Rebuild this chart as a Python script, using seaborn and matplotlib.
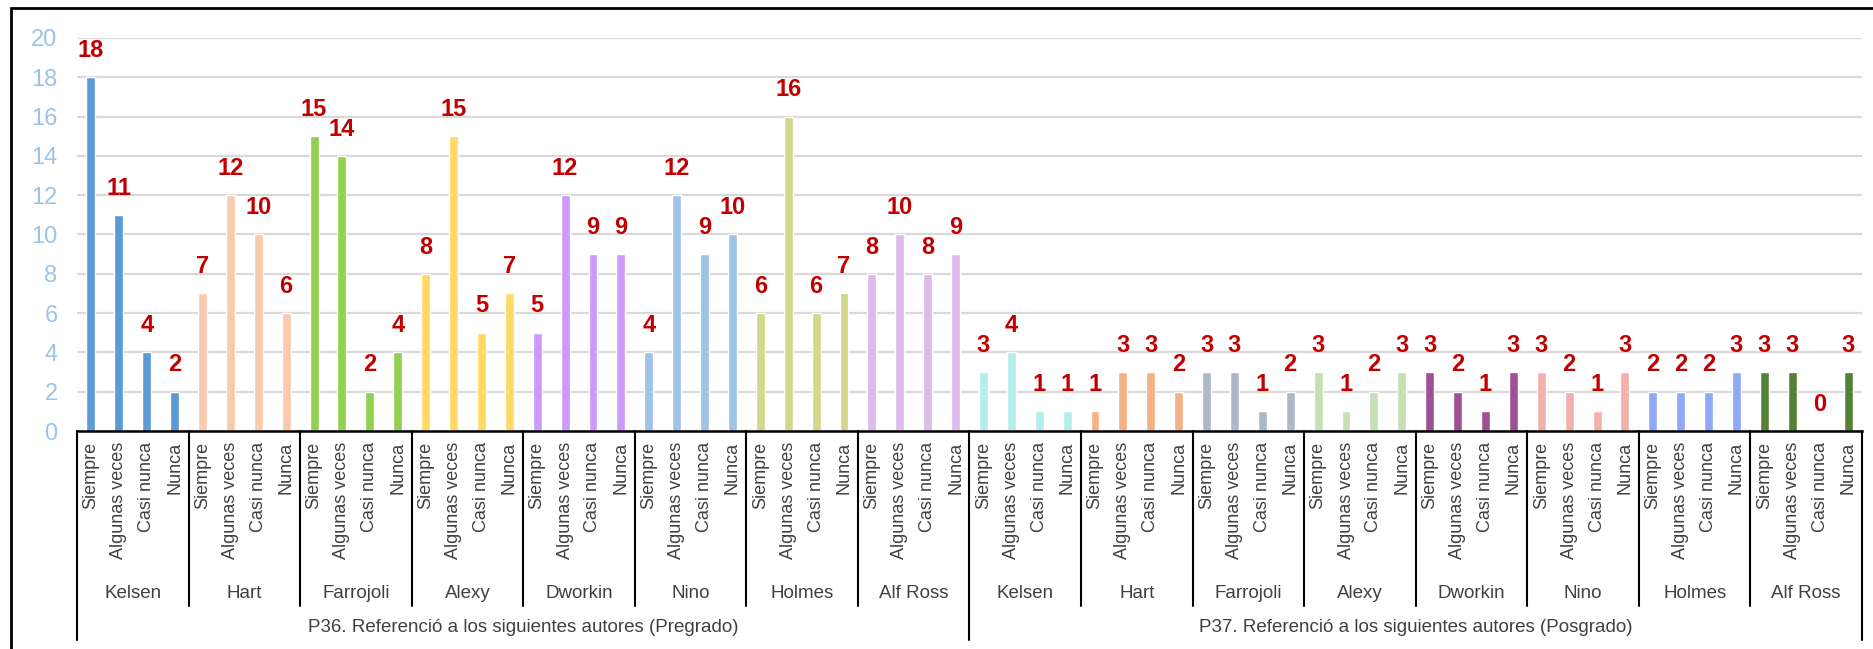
import pandas as pd
import matplotlib.pyplot as plt
import seaborn as sns
from matplotlib.patches import Rectangle

# --- data ---
groups = ['P36. Referenció a los siguientes autores (Pregrado)',
          'P37. Referenció a los siguientes autores (Posgrado)']
authors = ['Kelsen', 'Hart', 'Farrojoli', 'Alexy', 'Dworkin', 'Nino', 'Holmes', 'Alf Ross']
answers = ['Siempre', 'Algunas veces', 'Casi nunca', 'Nunca']

pregrado = [18, 11, 4, 2,   7, 12, 10, 6,   15, 14, 2, 4,   8, 15, 5, 7,
            5, 12, 9, 9,    4, 12, 9, 10,   6, 16, 6, 7,    8, 10, 8, 9]
posgrado = [3, 4, 1, 1,   1, 3, 3, 2,   3, 3, 1, 2,   3, 1, 2, 3,
            3, 2, 1, 3,   3, 2, 1, 3,   2, 2, 2, 3,   3, 3, 0, 3]

colors_pre = ['#5B9BD5', '#F8CBAD', '#92D050', '#FFD966',
              '#CC99FF', '#9DC3E6', '#D2D88A', '#DDB9EC']
colors_pos = ['#B3EEEE', '#F4B183', '#ADB9CA', '#C5E0B4',
              '#A05195', '#F4B0AA', '#8FA8F8', '#548235']

rows = []
for g, vals, cols in [(groups[0], pregrado, colors_pre), (groups[1], posgrado, colors_pos)]:
    for i, a in enumerate(authors):
        for j, ans in enumerate(answers):
            rows.append({'group': g, 'author': a, 'answer': ans,
                         'key': f'{g}|{a}|{ans}', 'value': vals[i * 4 + j], 'color': cols[i]})
df = pd.DataFrame(rows)
palette = dict(zip(df['key'], df['color']))

# --- plot ---
sns.set_style('white')
plt.rcParams['font.family'] = ['Liberation Sans', 'DejaVu Sans']

fig = plt.figure(figsize=(18.74, 6.49), dpi=100)
ax = fig.add_axes([77 / 1874, 1 - 431 / 649, (1862 - 77) / 1874, (431 - 38) / 649])

sns.barplot(data=df, x='key', y='value', hue='key', palette=palette, order=list(df['key']),
            hue_order=list(df['key']), legend=False, width=0.32, saturation=1, ax=ax)

for c in ax.containers:
    ax.bar_label(c, padding=11, color='#C00000', fontsize=17, fontweight='bold')

ax.set_ylim(0, 20)
ax.set_xlim(-0.5, len(df) - 0.5)
ax.set_yticks(range(0, 21, 2))
ax.yaxis.grid(True, color='#D9D9D9', linewidth=1.6)
ax.set_axisbelow(True)
ax.tick_params(axis='y', length=0, labelsize=17, labelcolor='#9DC3E6', pad=14)
ax.set_xticks(range(len(df)))
ax.set_xticklabels(df['answer'], rotation=90, fontsize=13, color='#404040')
ax.tick_params(axis='x', length=0, pad=8)
ax.set_xlabel('')
ax.set_ylabel('')
for s in ['left', 'right', 'top']:
    ax.spines[s].set_visible(False)
ax.spines['bottom'].set_color('black')
ax.spines['bottom'].set_linewidth(1.8)

# multi-level category labels
trans = ax.get_xaxis_transform()
h = 431 - 38
y_author = -(593 - 431) / h
y_group = -(628 - 431) / h
y_sep = -(606 - 431) / h
y_gsep = -(640 - 431) / h
for k in range(len(groups) * len(authors) + 1):
    x = k * 4 - 0.5
    bottom = y_gsep if k % len(authors) == 0 else y_sep
    ax.plot([x, x], [0, bottom], transform=trans, color='black', lw=1.5, clip_on=False)
for gi, g in enumerate(groups):
    for ai, a in enumerate(authors):
        xc = (gi * len(authors) + ai) * 4 + 1.5
        ax.text(xc, y_author, a, transform=trans, ha='center', va='center',
                fontsize=13.5, color='#404040')
    xg = gi * 32 + 15.5
    ax.text(xg, y_group, g, transform=trans, ha='center', va='center',
            fontsize=13.5, color='#404040')

# chart border
fig.patches.append(Rectangle((11 / 1874, -0.01), 1, 1 - 8 / 649 + 0.01, transform=fig.transFigure,
                             fill=False, edgecolor='black', linewidth=2))

fig.savefig('out.png', dpi=100)
